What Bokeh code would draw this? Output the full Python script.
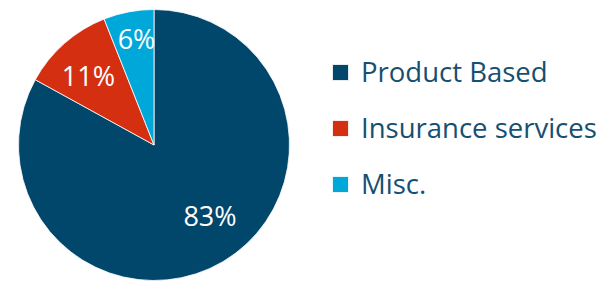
import math
from bokeh.plotting import figure
from bokeh.models import ColumnDataSource, Legend, LegendItem, Range1d
from bokeh.core.properties import value
from bokeh.embed import file_html
from bokeh.resources import INLINE

# ---- data ----
categories = ["Product Based", "Insurance services", "Misc."]
shares = [83, 11, 6]
pct_labels = ["83%", "11%", "6%"]
colors = ["#00476B", "#D52F12", "#00A8D9"]

# ---- style / placement ----
W, H = 607, 282
cx, cy, R = 153.5, 137.5, 135.5
label_r = [0.67, 0.70, 0.79]
label_dtheta = [7.5, 2.3, -1.4]
TEXT_FONT = "Open Sans"

total = float(sum(shares))
starts, ends, lx, ly = [], [], [], []
acc = 0.0
for i, s in enumerate(shares):
    a0 = math.pi / 2 - 2 * math.pi * acc / total
    acc += s
    a1 = math.pi / 2 - 2 * math.pi * acc / total
    starts.append(a0)
    ends.append(a1)
    mid = (a0 + a1) / 2 + math.radians(label_dtheta[i])
    lx.append(cx + label_r[i] * R * math.cos(mid))
    ly.append(cy + label_r[i] * R * math.sin(mid) + 1)

src = ColumnDataSource(dict(cat=categories, share=shares, start=starts, end=ends,
                            color=colors, lx=lx, ly=ly, lab=pct_labels))

p = figure(width=W, height=H, x_range=Range1d(0, W), y_range=Range1d(0, H),
           output_backend="svg", toolbar_location=None, min_border=0,
           outline_line_color=None)
p.axis.visible = False
p.grid.visible = False
p.background_fill_color = "white"
p.border_fill_color = "white"

items = []
for i in range(len(shares)):
    r = p.wedge(x=cx, y=cy, radius=R, start_angle=starts[i], end_angle=ends[i],
                direction="clock", fill_color=colors[i], line_color="white",
                line_width=0.8)
    items.append(LegendItem(label=categories[i], renderers=[r]))

p.text(x="lx", y="ly", text="lab", source=src, text_color="white",
       text_font=value(TEXT_FONT), text_font_size="27px",
       text_align="center", text_baseline="middle")

legend = Legend(items=items, location=(330, 80), orientation="vertical",
                glyph_width=20, glyph_height=20, label_standoff=11,
                spacing=19, padding=0, margin=0,
                border_line_color=None, background_fill_alpha=0,
                label_text_font=TEXT_FONT, label_text_font_size="27.5px",
                label_text_color="#154F72", label_text_baseline="middle")
p.add_layout(legend, "center")

open("out.html", "w").write(file_html(p, INLINE))
